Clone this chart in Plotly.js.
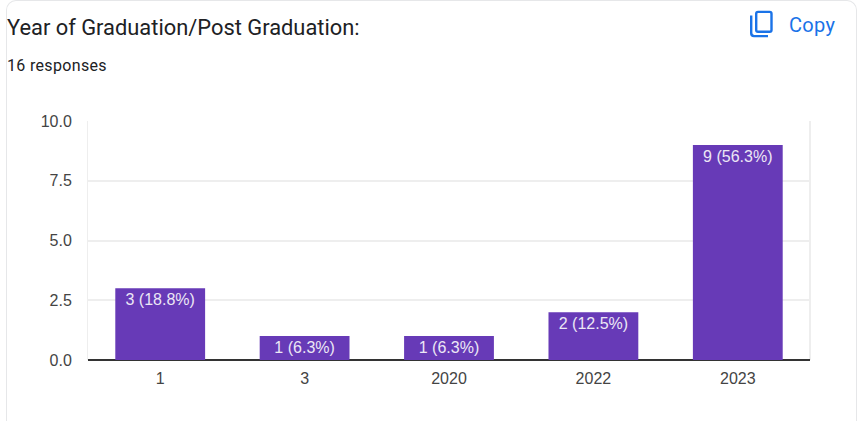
<!DOCTYPE html>
<html>
<head>
<meta charset="utf-8">
<script src="https://cdn.plot.ly/plotly-3.0.1.min.js"></script>
<style>
html,body{margin:0;padding:0;background:#fff;width:863px;height:424px;overflow:hidden}
#card{position:absolute;left:6px;top:0;width:851px;height:421px;box-sizing:border-box;border:1px solid #e6e7e9;border-bottom:none;border-radius:10px 10px 0 0}
#chart{position:absolute;left:0;top:0;width:863px;height:424px}
#icon{position:absolute;left:747px;top:8px;width:30px;height:30px}
.annotation-text{letter-spacing:.33px}
</style>
</head>
<body>
<div id="card"></div>
<div id="chart"></div>
<svg id="icon" viewBox="0 0 30 30"><path fill="#1a73e8" d="M3 7.500h2.400v17.600q0 1.800 1.800 1.800h13.800v2.400H7q-4 0-4-4zM11 2.700h11.700q3 0 3 3v16.300q0 3-3 3H11q-3 0-3-3V5.700q0-3 3-3zm0 2.400q-.6 0-.6.6v16.300q0 .6.600.6h11.700q.6 0 .6-.6V5.700q0-.6-.6-.6z"/></svg>
<script>
var categories = ["1", "3", "2020", "2022", "2023"];
var counts = [3, 1, 1, 2, 9];
var barLabels = ["3 (18.8%)", "1 (6.3%)", "1 (6.3%)", "2 (12.5%)", "9 (56.3%)"];
var yTicks = [0, 2.5, 5, 7.5, 10];
var yTickLabels = ["0.0", "2.5", "5.0", "7.5", "10.0"];

Plotly.newPlot("chart", [{
  type: "bar",
  x: categories,
  y: counts,
  text: barLabels,
  textposition: "inside",
  insidetextanchor: "end",
  textangle: 0,
  constraintext: "none",
  cliponaxis: false,
  insidetextfont: {family: "Liberation Sans, Arial, sans-serif", size: 16, color: "#ece7f5"},
  marker: {color: "#673ab7", line: {width: 0}},
  width: 0.622,
  hoverinfo: "skip"
}], {
  width: 863,
  height: 424,
  margin: {l: 88, r: 53, t: 121, b: 64, pad: 0},
  paper_bgcolor: "rgba(0,0,0,0)",
  plot_bgcolor: "rgba(0,0,0,0)",
  showlegend: false,
  title: {
    text: "Year of Graduation/Post Graduation:",
    font: {family: "Roboto, sans-serif", size: 21.87, color: "#202124"},
    x: 7 / 863, xref: "container", xanchor: "left", pad: {l: 0, r: 0, t: 0, b: 0},
    y: 1 - 27 / 424, yref: "container", yanchor: "middle"
  },
  xaxis: {
    type: "category",
    showgrid: false,
    showline: false,
    zeroline: false,
    ticks: "",
    ticklabelstandoff: 7,
    tickfont: {family: "Liberation Sans, Arial, sans-serif", size: 16, color: "#444444"},
    fixedrange: true
  },
  yaxis: {
    range: [0, 10],
    tickmode: "array",
    tickvals: yTicks,
    ticktext: yTickLabels,
    tickfont: {family: "Liberation Sans, Arial, sans-serif", size: 16, color: "#444444"},
    showgrid: true,
    gridcolor: "#eeeeee",
    gridwidth: 2,
    zeroline: true,
    zerolinecolor: "#333333",
    zerolinewidth: 2,
    showline: true,
    linecolor: "#eeeeee",
    linewidth: 1,
    ticks: "",
    ticklabelstandoff: 12,
    fixedrange: true
  },
  shapes: [
    {type: "line", xref: "paper", yref: "paper", x0: 1, x1: 1, y0: 0, y1: 1, line: {color: "#eeeeee", width: 2}, layer: "below"}
  ],
  annotations: [
    {text: "16 responses", xref: "paper", yref: "paper", x: -83 / 722, y: 1 + 56 / 239, xanchor: "left", yanchor: "middle", showarrow: false,
     font: {family: "Roboto, sans-serif", size: 16, color: "#202124"}},
    {text: "Copy", xref: "paper", yref: "paper", x: (787 - 88) / 722, y: 1 + 96 / 239, xanchor: "left", yanchor: "middle", showarrow: false,
     font: {family: "Roboto, sans-serif", size: 20, color: "#1a73e8"}}
  ]
}, {displayModeBar: false, staticPlot: true});
</script>
</body>
</html>
